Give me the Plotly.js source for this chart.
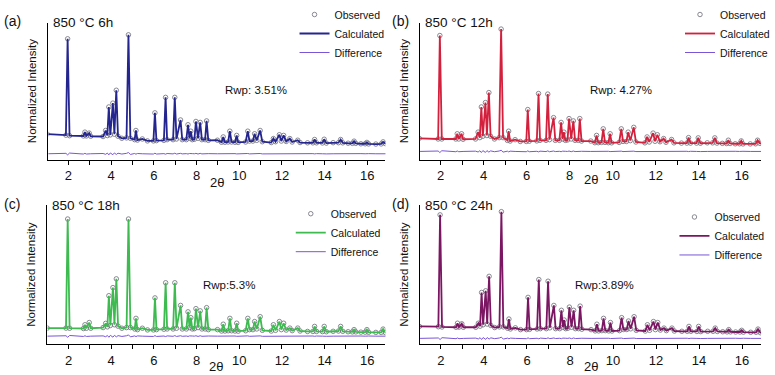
<!DOCTYPE html>
<html>
<head>
<meta charset="utf-8">
<script src="https://cdn.plot.ly/plotly-3.0.1.min.js"></script>
<style>
  html, body { margin: 0; padding: 0; background: #fff; }
  #chart { width: 775px; height: 375px; }
</style>
</head>
<body>
<div id="chart"></div>
<script>
// 2theta positions (same phase, so shared by all four panels)
const twoTheta = [
  1.0, 1.88, 1.96, 2.05,
  2.70, 2.77, 2.84, 2.97, 3.04,
  3.62, 3.74, 3.82, 3.89, 3.96, 4.08, 4.15, 4.24, 4.32,
  4.5, 4.72, 4.81, 4.9,
  5.1, 5.16, 5.23, 5.46, 5.7,
  5.98, 6.05, 6.12,
  6.47, 6.55, 6.62,
  6.9, 6.98, 7.06, 7.25, 7.33,
  7.52, 7.6, 7.67, 7.73, 7.8,
  7.9, 7.97, 8.07, 8.17, 8.25,
  8.4, 8.47, 8.55,
  8.98,
  9.17, 9.25, 9.33,
  9.48, 9.56, 9.64,
  9.8, 9.88, 9.95,
  10.3, 10.4, 10.48, 10.64, 10.72, 10.82, 10.98, 11.08,
  11.5, 11.6, 11.7, 11.88, 11.97, 12.08, 12.2, 12.37, 12.48, 12.74, 12.85,
  13.2,
  13.45, 13.53, 13.62,
  13.9, 13.98, 14.08,
  14.4,
  14.65, 14.75, 14.85,
  15.1,
  15.3, 15.38, 15.46,
  15.7,
  15.9, 15.98, 16.06,
  16.4,
  16.65, 16.74, 16.85,
  17.0
];

// normalized intensity, one array per sample
const int6h = [
  18.6, 17.8, 88.2, 17.4,
  17.2, 20, 17.2, 19.3, 17,
  16.8, 21.2, 17.5, 38.4, 18, 41.2, 18.5, 50.6, 17,
  15.5, 15.8, 91.1, 15.5,
  14.5, 21.2, 14.2, 15, 13.6,
  13.6, 34.1, 13.8,
  14, 45.4, 14.5,
  14.5, 45.4, 15, 28.9, 14.5,
  14.5, 25.4, 15.5, 20.7, 14.5,
  14.8, 27.8, 15.5, 27.1, 14.5,
  14.5, 28.2, 14,
  14.1,
  12.6, 16.5, 12.6,
  12.8, 20.7, 12.8,
  12.6, 17.6, 12.5,
  12.8, 20.7, 13.5, 13.5, 18.8, 14, 21.2, 13,
  12.4, 15.3, 13, 18.1, 13.5, 17.6, 13.2, 15.3, 12.8, 14.1, 12.4,
  12.2,
  12.2, 14.6, 12.2,
  12.1, 14.8, 12,
  12.3,
  12.3, 14.6, 12.2,
  11.9,
  11.8, 13.4, 11.8,
  11.5,
  11.5, 12.5, 11.4,
  11.3,
  11.4, 12.9, 11.6,
  11.6
];

const int12h = [
  15.5, 15, 90.6, 15,
  15, 18.8, 15, 18.8, 14.8,
  15, 20, 16, 38.4, 17, 41.6, 17.5, 48.9, 17,
  15, 16, 95.3, 16,
  14, 20.7, 13.5, 14.5, 13.2,
  13.2, 36.5, 13.4,
  13.6, 48.2, 14,
  14, 47.8, 14.5, 30.6, 14,
  14, 27.1, 15, 20, 14,
  14.3, 29.9, 15, 28.2, 14,
  14, 29.9, 13.5,
  13.5,
  12.3, 17.6, 12.3,
  12.5, 22.4, 12.5,
  12.3, 18.8, 12.2,
  12.5, 22.4, 13.2, 13.2, 20, 13.8, 23.5, 12.8,
  12.2, 16.5, 12.8, 19.3, 13.3, 18.1, 13, 15.3, 12.6, 14.6, 12.2,
  12,
  12, 16, 12,
  12, 15.8, 11.9,
  12.2,
  12.2, 15.8, 12,
  11.8,
  11.7, 14.1, 11.7,
  11.5,
  11.5, 13.6, 11.4,
  11.4,
  11.5, 14.1, 11.8,
  11.8
];

const int18h = [
  11.6, 11.6, 90, 11.5,
  11.3, 14, 11.5, 15.6, 11.5,
  12, 15, 12.5, 34.9, 13.5, 40.7, 14, 47, 13,
  11.5, 12, 90, 12,
  11, 18.6, 10.5, 11.5, 10.3,
  10.3, 33.3, 10.5,
  10.8, 44.2, 11,
  11, 44.2, 11.5, 27.9, 11,
  11, 23.3, 12, 19.1, 11,
  11.2, 25.6, 12, 24, 11,
  11, 26.3, 10.5,
  10.5,
  9.5, 14.4, 9.5,
  9.7, 18.6, 9.7,
  9.5, 15.1, 9.4,
  9.7, 18.6, 10.5, 10.5, 16.3, 11, 19.8, 10,
  9.5, 14, 10, 16.3, 10.5, 15.1, 10.2, 11.6, 9.8, 11.6, 9.5,
  9.2,
  9.2, 12.8, 9.2,
  9.1, 12.8, 9,
  9.3,
  9.5, 12.8, 9.3,
  9,
  8.9, 10.5, 8.9,
  8.7,
  8.7, 10.5, 8.6,
  8.5,
  8.5, 10.9, 8.3,
  8.3
];

const int24h = [
  12.8, 12.6, 93, 12.4,
  12.2, 15.1, 12.3, 14.7, 12.2,
  12.2, 15.1, 13, 37.2, 14, 38.4, 14.5, 48.8, 13.5,
  12, 12.5, 95.3, 12.5,
  11.5, 18.1, 11, 11.8, 10.5,
  10.5, 33.7, 10.7,
  11, 46.5, 11.2,
  11.2, 45.3, 11.8, 27.9, 11.2,
  11.2, 24.4, 12.2, 17.4, 11.2,
  11.5, 26.7, 12.2, 24.4, 11.2,
  11.2, 27.4, 10.8,
  10.5,
  9.6, 14.4, 9.6,
  9.8, 18.6, 9.8,
  9.6, 15.6, 9.5,
  9.8, 19.1, 10.6, 10.6, 16.7, 11.1, 19.8, 10,
  9.5, 14, 10, 16.3, 10.5, 15.6, 10.2, 11.6, 9.8, 11.6, 9.5,
  9.3,
  9.3, 12.8, 9.3,
  9.2, 12.8, 9.1,
  9.3,
  9.3, 11.6, 9.2,
  9,
  8.9, 10.5, 8.9,
  8.8,
  8.8, 10, 8.7,
  8.6,
  8.6, 10.9, 8.3,
  8.3
];

// residual (obs - calc), drawn below each pattern at its own offset
const residual = [
  0, 0.3, -0.8, 0.5,
  -0.2, 0.3, -0.2, 0.2, 0,
  0.2, -0.4, 0.5, -0.8, 0.6, -0.7, 0.6, -0.5, 0.4,
  -0.2, 0.3, 0.9, -0.5,
  0.2, -0.3, 0.2, 0, 0.1,
  -0.2, 0.4, -0.2,
  0.1, -0.3, 0.2,
  -0.1, 0.4, -0.2, 0.3, -0.1,
  0.1, -0.2, 0.2, -0.1, 0.1,
  0, 0.3, -0.2, 0.3, -0.1,
  0.1, -0.2, 0.1,
  0,
  0.1, -0.1, 0.1,
  0, 0.2, -0.1,
  0.1, -0.1, 0,
  0.1, 0.2, -0.1, 0.1, -0.1, 0.1, 0.2, -0.1,
  0, 0.1, -0.1, 0.1, 0, 0.1, -0.1, 0.1, 0, 0.1, -0.1,
  0,
  0.1, -0.1, 0.1,
  0, 0.1, -0.1,
  0,
  0.1, -0.1, 0.1,
  0,
  0.1, -0.1, 0,
  0.1,
  0, -0.1, 0.1,
  0,
  0.1, -0.1, 0.1,
  0
];

const panelLabels = ['(a)', '(b)', '(c)', '(d)'];
const sampleNames = ['850 °C 6h', '850 °C 12h', '850 °C 18h', '850 °C 24h'];
const rwpLabels = ['Rwp: 3.51%', 'Rwp: 4.27%', 'Rwp:5.3%', 'Rwp:3.89%'];
const diffOffsets = [4.2, 5.9, 5.8, 4.2];
const intensities = [int6h, int12h, int18h, int24h];

const calcColors = ['#25258f', '#d3213d', '#3dba50', '#7a1662'];
const diffColor = '#7a55d6';
const obsColor = '#6c6c78';
const FONT = 'Liberation Sans, Arial, sans-serif';

// panel geometry (paper fractions) and axis ranges
const xDomains = [[0.0632, 0.5032], [0.5484, 0.9935], [0.0619, 0.5032], [0.5484, 0.9935]];
const yDomains = [[0.592, 0.968], [0.592, 0.968], [0.0845, 0.4667], [0.0845, 0.4667]];
const xRanges = [[1.06, 16.85], [1.04, 16.9], [1.01, 16.85], [1.03, 16.88]];
const legendPos = [[0.3845, 1.031], [0.888, 1.031], [0.3796, 0.483], [0.8805, 0.474]];
const rwpPos = [[10.78, 50.5], [10.38, 51], [9.54, 42.5], [9.6, 42.5]];
const xTitleY = [0.528, 0.538, 0.022, 0.022];

const tickVals = [1, 2, 3, 4, 5, 6, 7, 8, 9, 10, 11, 12, 13, 14, 15, 16, 17];
const tickText = tickVals.map(v => (v % 2 === 0 ? String(v) : ''));

const traces = [];
const layout = {
  width: 775,
  height: 375,
  margin: { l: 0, r: 0, t: 0, b: 0 },
  paper_bgcolor: '#fff',
  plot_bgcolor: 'rgba(0,0,0,0)',
  font: { family: FONT, color: '#111', size: 13 },
  annotations: []
};

for (let i = 0; i < 4; i++) {
  const n = i === 0 ? '' : String(i + 1);
  const xa = 'x' + n, ya = 'y' + n;
  const leg = 'legend' + n;
  const diff = residual.map(r => r + diffOffsets[i]);

  traces.push({
    x: twoTheta, y: intensities[i], xaxis: xa, yaxis: ya,
    type: 'scatter', mode: 'markers', name: 'Observed', legend: leg,
    marker: { symbol: 'circle-open', size: 4.5, color: obsColor, line: { width: 0.8 } }
  });
  traces.push({
    x: twoTheta, y: intensities[i], xaxis: xa, yaxis: ya,
    type: 'scatter', mode: 'lines', name: 'Calculated', legend: leg,
    line: { color: calcColors[i], width: 1.8 }
  });
  traces.push({
    x: twoTheta, y: diff, xaxis: xa, yaxis: ya,
    type: 'scatter', mode: 'lines', name: 'Difference', legend: leg,
    line: { color: diffColor, width: 1 }
  });

  layout['xaxis' + n] = {
    domain: xDomains[i], range: xRanges[i], anchor: ya,
    showline: true, linecolor: '#000', linewidth: 1,
    showgrid: false, zeroline: false,
    ticks: 'outside', ticklen: 4, tickcolor: '#000',
    tickvals: tickVals, ticktext: tickText,
    tickfont: { size: 13, family: FONT, color: '#111' }
  };
  layout['yaxis' + n] = {
    domain: yDomains[i], range: [0, 100], anchor: xa,
    showline: true, linecolor: '#000', linewidth: 1,
    showgrid: false, zeroline: false,
    ticks: '', showticklabels: false,
    title: { text: 'Normalized Intensity', font: { size: 11.5, family: FONT, color: '#111' }, standoff: 8 }
  };
  layout[leg] = {
    x: legendPos[i][0], y: legendPos[i][1], xanchor: 'left', yanchor: 'top',
    bgcolor: 'rgba(0,0,0,0)', borderwidth: 0,
    font: { size: 10.5, family: FONT, color: '#111' },
    tracegroupgap: 0
  };

  // panel letter
  layout.annotations.push({
    xref: 'paper', yref: 'paper',
    x: i % 2 === 0 ? 0.002 : 0.509, y: yDomains[i][1] + 0.004,
    xanchor: 'left', yanchor: 'middle', showarrow: false,
    text: panelLabels[i], font: { size: 14, family: FONT, color: '#111' }
  });
  // sample title inside top-left corner
  layout.annotations.push({
    xref: xa + ' domain', yref: ya + ' domain',
    x: 0.008, y: 1.0, xanchor: 'left', yanchor: 'middle', showarrow: false,
    text: sampleNames[i], font: { size: 13.5, family: FONT, color: '#111' }
  });
  // Rwp
  layout.annotations.push({
    xref: xa, yref: ya, x: rwpPos[i][0], y: rwpPos[i][1],
    showarrow: false, text: rwpLabels[i],
    font: { size: 11.5, family: FONT, color: '#111' }
  });
  // x axis title, sits tight under the tick labels
  layout.annotations.push({
    xref: xa + ' domain', yref: 'paper', x: 0.5, y: xTitleY[i],
    xanchor: 'center', yanchor: 'middle', showarrow: false,
    text: '2θ', font: { size: 13, family: FONT, color: '#111' }
  });
}

Plotly.newPlot('chart', traces, layout, { displayModeBar: false, staticPlot: true });
</script>
</body>
</html>
